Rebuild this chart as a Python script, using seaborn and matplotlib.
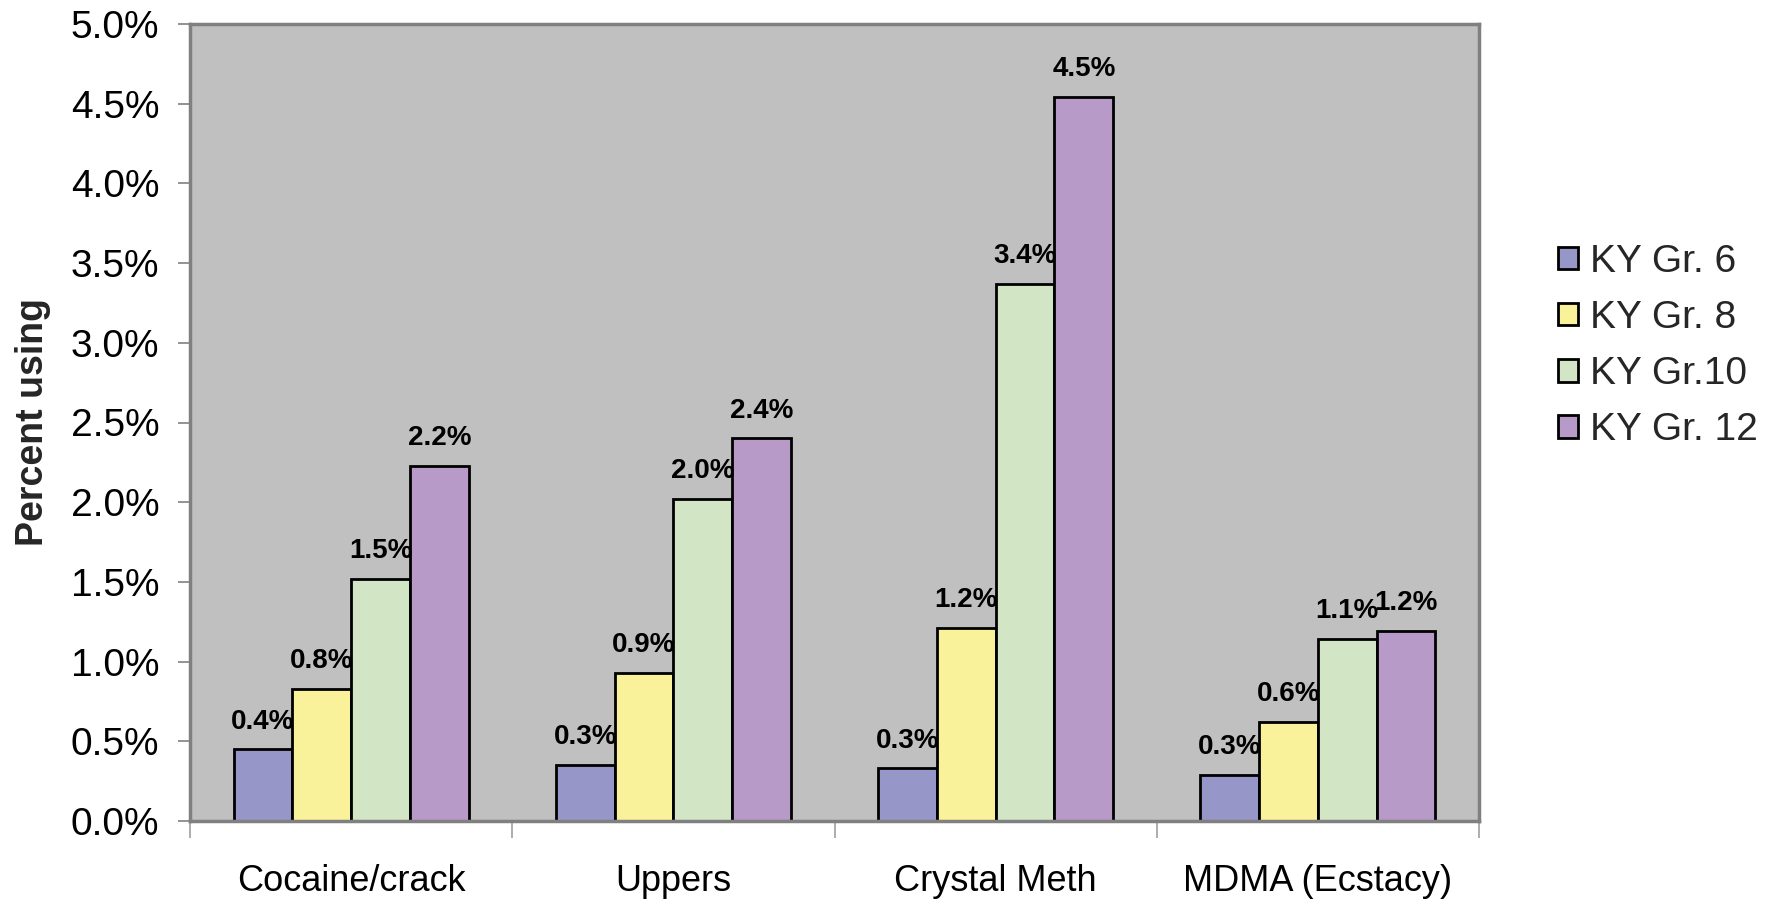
import matplotlib
matplotlib.use("Agg")
import matplotlib.pyplot as plt
import seaborn as sns
import pandas as pd
from matplotlib.ticker import FuncFormatter, FixedLocator, NullFormatter

# Survey results: percent of students reporting use, by grade
drugs = ["Cocaine/crack", "Uppers", "Crystal Meth", "MDMA (Ecstacy)"]
grades = ["KY Gr. 6", "KY Gr. 8", "KY Gr.10", "KY Gr. 12"]
gr6 = [0.449, 0.35, 0.33, 0.29]
gr8 = [0.83, 0.93, 1.21, 0.62]
gr10 = [1.52, 2.02, 3.37, 1.14]
gr12 = [2.23, 2.40, 4.54, 1.19]

colors = ["#9696C8", "#FAF29A", "#D2E6C6", "#B89AC8"]

rows = []
for g, vals in zip(grades, [gr6, gr8, gr10, gr12]):
    for d, v in zip(drugs, vals):
        rows.append({"drug": d, "grade": g, "pct": v})
df = pd.DataFrame(rows)

sns.set_theme(style="white")
plt.rcParams["font.family"] = ["Liberation Sans", "DejaVu Sans"]

fig = plt.figure(figsize=(17.69, 8.99), dpi=100)
ax = fig.add_axes([190 / 1769, 1 - 821 / 899, (1479 - 190) / 1769, (821 - 24) / 899])
ax.set_facecolor("#C0C0C0")

sns.barplot(data=df, x="drug", y="pct", hue="grade", order=drugs,
            hue_order=grades, palette=colors, width=0.73, saturation=1,
            edgecolor="black", linewidth=2, ax=ax, legend=True)

# value labels above each bar
for cont in ax.containers:
    for rect in cont:
        h = rect.get_height()
        ax.annotate(f"{h:.1f}%", (rect.get_x() + rect.get_width() / 2, h),
                    xytext=(0, 15), textcoords="offset points",
                    ha="center", va="baseline", fontsize=20,
                    fontweight="bold", color="black")

ax.set_ylim(0, 5.0)
ax.set_xlim(-0.5, len(drugs) - 0.5)
ax.set_yticks([i * 0.5 for i in range(11)])
ax.yaxis.set_major_formatter(FuncFormatter(lambda v, p: f"{v:.1f}%"))
ax.tick_params(axis="y", which="major", left=True, length=9, width=1.2,
               color="#808080", labelsize=28, pad=13, labelcolor="black")

# category boundaries as ticks, names centred between them
ax.xaxis.set_major_locator(FixedLocator([i - 0.5 for i in range(len(drugs) + 1)]))
ax.xaxis.set_major_formatter(NullFormatter())
ax.xaxis.set_minor_locator(FixedLocator(list(range(len(drugs)))))
ax.set_xticklabels(drugs, minor=True)
ax.tick_params(axis="x", which="major", bottom=True, length=12, width=1.2,
               color="#A0A0A0")
ax.tick_params(axis="x", which="minor", bottom=False, length=0,
               labelsize=26, pad=31, labelcolor="black")

ax.set_xlabel("")
ax.set_ylabel("Percent using", fontsize=27, fontweight="bold", labelpad=14)

for s in ax.spines.values():
    s.set_visible(True)
    s.set_color("#808080")
    s.set_linewidth(2.5)

leg = ax.legend(loc="center left", bbox_to_anchor=(1.061, 0.596), frameon=False,
                fontsize=28, handlelength=0.52, handleheight=0.52,
                handletextpad=0.32, labelspacing=0.52, borderaxespad=0,
                borderpad=0)
for patch in leg.get_patches():
    patch.set_edgecolor("black")
    patch.set_linewidth(2)

fig.savefig("out.png", dpi=100, facecolor="white")
